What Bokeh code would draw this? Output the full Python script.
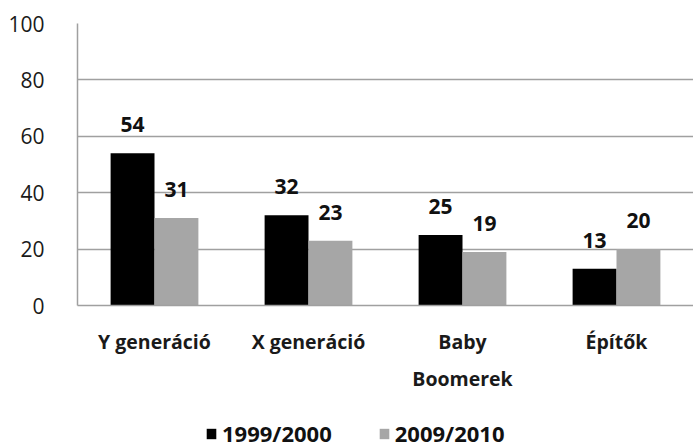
from bokeh.plotting import figure
from bokeh.layouts import column
from bokeh.models import ColumnDataSource, Range1d, FactorRange, Legend, LegendItem, FixedTicker
from bokeh.transform import dodge
from bokeh.core.properties import value
from bokeh.embed import file_html
from bokeh.resources import INLINE

categories = ["Y generáció", "X generáció", "Baby\nBoomerek", "Építők"]
series_names = ["1999/2000", "2009/2010"]
values_1999 = [54, 32, 25, 13]
values_2009 = [31, 23, 19, 20]
y_ticks = [0, 20, 40, 60, 80, 100]

FONT = "Open Sans"
BLACK = "#000000"
GRAY = "#a6a6a6"
GRID = "#a0a0a0"

src = ColumnDataSource(dict(
    cat=categories,
    v1=values_1999,
    v2=values_2009,
    t1=[str(v) for v in values_1999],
    t2=[str(v) for v in values_2009],
))

p = figure(width=693, height=395, x_range=FactorRange(factors=categories), y_range=Range1d(0, 100),
           output_backend="svg", toolbar_location=None,
           min_border_left=77, min_border_right=0, min_border_top=23, min_border_bottom=89)
p.outline_line_color = None

bw = 0.285
r1 = p.vbar(x=dodge("cat", -bw / 2, range=p.x_range), top="v1", width=bw, source=src,
            fill_color=BLACK, line_color=None)
r2 = p.vbar(x=dodge("cat", bw / 2, range=p.x_range), top="v2", width=bw, source=src,
            fill_color=GRAY, line_color=None)

for col, t, off in (("v1", "t1", -bw / 2), ("v2", "t2", bw / 2)):
    p.text(x=dodge("cat", off, range=p.x_range), y=col, text=t, source=src,
           text_font=value(FONT), text_font_style="bold", text_font_size="21px",
           text_align="center", text_baseline="bottom", y_offset=-21, text_color="#111111")

p.yaxis.ticker = FixedTicker(ticks=y_ticks)
p.yaxis.major_tick_line_color = None
p.yaxis.minor_tick_line_color = None
p.yaxis.axis_line_color = GRID
p.yaxis.axis_line_width = 1.5
p.yaxis.major_label_text_font = FONT
p.yaxis.major_label_text_font_size = "21px"
p.yaxis.major_label_text_color = "#1a1a1a"
p.yaxis.major_label_standoff = 27

p.xaxis.major_tick_line_color = None
p.xaxis.axis_line_color = GRID
p.xaxis.axis_line_width = 1.5
p.xaxis.major_label_text_font = FONT
p.xaxis.major_label_text_font_size = "19.5px"
p.xaxis.major_label_text_font_style = "bold"
p.xaxis.major_label_text_color = "#1a1a1a"
p.xaxis.major_label_text_line_height = 1.4
p.xaxis.major_label_standoff = 16

p.xgrid.grid_line_color = None
p.ygrid.grid_line_color = GRID
p.ygrid.grid_line_width = 1.5

# legend strip below the chart (its bars fall outside its 0..1 view; only the legend shows)
p2 = figure(width=693, height=53, x_range=Range1d(0, 1), y_range=Range1d(0, 1),
            output_backend="svg", toolbar_location=None,
            x_axis_location=None, y_axis_location=None,
            min_border_left=0, min_border_right=0, min_border_top=0, min_border_bottom=0)
p2.grid.visible = False
p2.outline_line_color = None
lr1 = p2.vbar(x="v1", top="v1", width=0.1, source=src, fill_color=BLACK, line_color=None)
lr2 = p2.vbar(x="v2", top="v2", width=0.1, source=src, fill_color=GRAY, line_color=None)

legend = Legend(items=[LegendItem(label=series_names[0], renderers=[lr1]),
                       LegendItem(label=series_names[1], renderers=[lr2])],
                orientation="horizontal", location=(128, 0),
                glyph_width=12, glyph_height=13, spacing=46, label_standoff=5,
                label_text_font=FONT, label_text_font_style="bold", label_text_font_size="22px",
                label_text_color="#111111", border_line_color=None, background_fill_alpha=0,
                padding=0, margin=0)
p2.add_layout(legend)

open("out.html", "w").write(file_html(column(p, p2, spacing=0), INLINE))
